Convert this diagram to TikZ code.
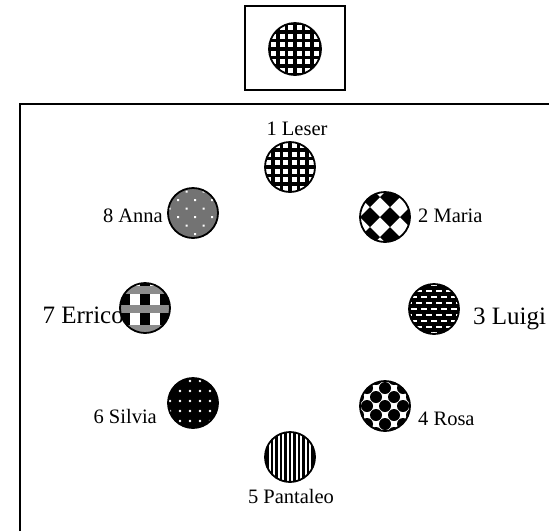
\documentclass[tikz,border=0pt]{standalone}
\usepackage{fontspec}
\setmainfont{Liberation Serif}
\usetikzlibrary{patterns.meta}

\begin{document}
\begin{tikzpicture}[x=1pt,y=-1pt,
  member/.style={circle,draw,line width=1.8pt,minimum size=50pt,inner sep=0pt},
  lab/.style={inner sep=0pt,font=\fontsize{20.5}{23}\selectfont},
  biglab/.style={inner sep=0pt,font=\fontsize{25}{28}\selectfont},
  frame/.style={line width=1.3pt},
  grid/.style={path picture={
    \begin{scope}[shift={(path picture bounding box.center)}]
    \foreach \k in {-25.5,-17,...,26} {
      \draw[line width=3.2pt] (\k,-30) -- (\k,30);
      \draw[line width=3.2pt] (-30,\k) -- (30,\k);}
    \end{scope}}},
  vlines/.style={path picture={
    \begin{scope}[shift={(path picture bounding box.center)}]
    \foreach \k in {-27,-22.5,...,27} \draw[line width=2.1pt] (\k,-30) -- (\k,30);
    \end{scope}}},
  dotted/.style={preaction={fill=black},pattern={Dots[distance=10pt,radius=1.4pt]},pattern color=white},
  speck/.style={preaction={fill=black!55},pattern={Dots[distance=12pt,radius=1.4pt,angle=45]},pattern color=white},
  diamonds/.style={path picture={
    \begin{scope}[shift={(path picture bounding box.center)}]
    \foreach \i in {-2,...,2} \foreach \j in {-2,...,2}
      \fill ({20*\i+5},{20*\j}) +(-10,0) -- +(0,-10) -- +(10,0) -- +(0,10) -- cycle;
    \end{scope}}},
  plaid/.style={path picture={
    \begin{scope}[shift={(path picture bounding box.center)}]
    \foreach \i in {-20,0,20} \fill ({\i-5},-30) rectangle ({\i+5},30);
    \foreach \j in {-18,1,21} \fill[black!45] (-30,{\j-4}) rectangle (30,{\j+4});
    \end{scope}}},
  bricks/.style={fill=black,path picture={
    \begin{scope}[shift={(path picture bounding box.center)}]
    \foreach \j in {-4,...,4} \foreach \i in {-3,...,3}
      \fill[white] ({10*\i+5*mod(\j+10,2)-3},{6*\j-1.2}) rectangle +(6,2.4);
    \end{scope}}},
  balls/.style={path picture={
    \begin{scope}[shift={(path picture bounding box.center)}]
    \foreach \i in {-3,...,3} \foreach \j in {-3,...,3}
      \fill ({9*(\i+\j)},{9*(\i-\j)}) circle (6);
    \end{scope}}},
]
\useasboundingbox (0,0) rectangle (549,531);
% frames
\draw[frame] (245,6) rectangle (345,90);
\draw[frame] (20,531) -- (20,104) -- (549,104);
% names
\node[lab,anchor=base](leserlab) at(297,135){1 Leser};
\node[lab,anchor=base west](marialab) at(418,222){2 Maria};
\node[biglab,anchor=base west](luigilab) at(473,324){3 Luigi};
\node[lab,anchor=base west](rosalab) at(418,425){4 Rosa};
\node[lab,anchor=base](pantaleolab) at(291,503){5 Pantaleo};
\node[lab,anchor=base east](silvialab) at(157,423){6 Silvia};
\node[biglab,anchor=base east](erricolab) at(124,323){7 Errico};
\node[lab,anchor=base east](annalab) at(163,222){8 Anna};
% members
\node[member,grid,minimum size=52pt](boss) at(295,49){};
\node[member,grid](leser) at(290,167){};
\node[member,diamonds](maria) at(385,217){};
\node[member,bricks](luigi) at(434,309){};
\node[member,balls](rosa) at(385,406){};
\node[member,vlines](pantaleo) at(290,457){};
\node[member,dotted](silvia) at(193,403){};
\node[member,plaid](errico) at(145,308){};
\node[member,speck](anna) at(193,213){};
\end{tikzpicture}
\end{document}
